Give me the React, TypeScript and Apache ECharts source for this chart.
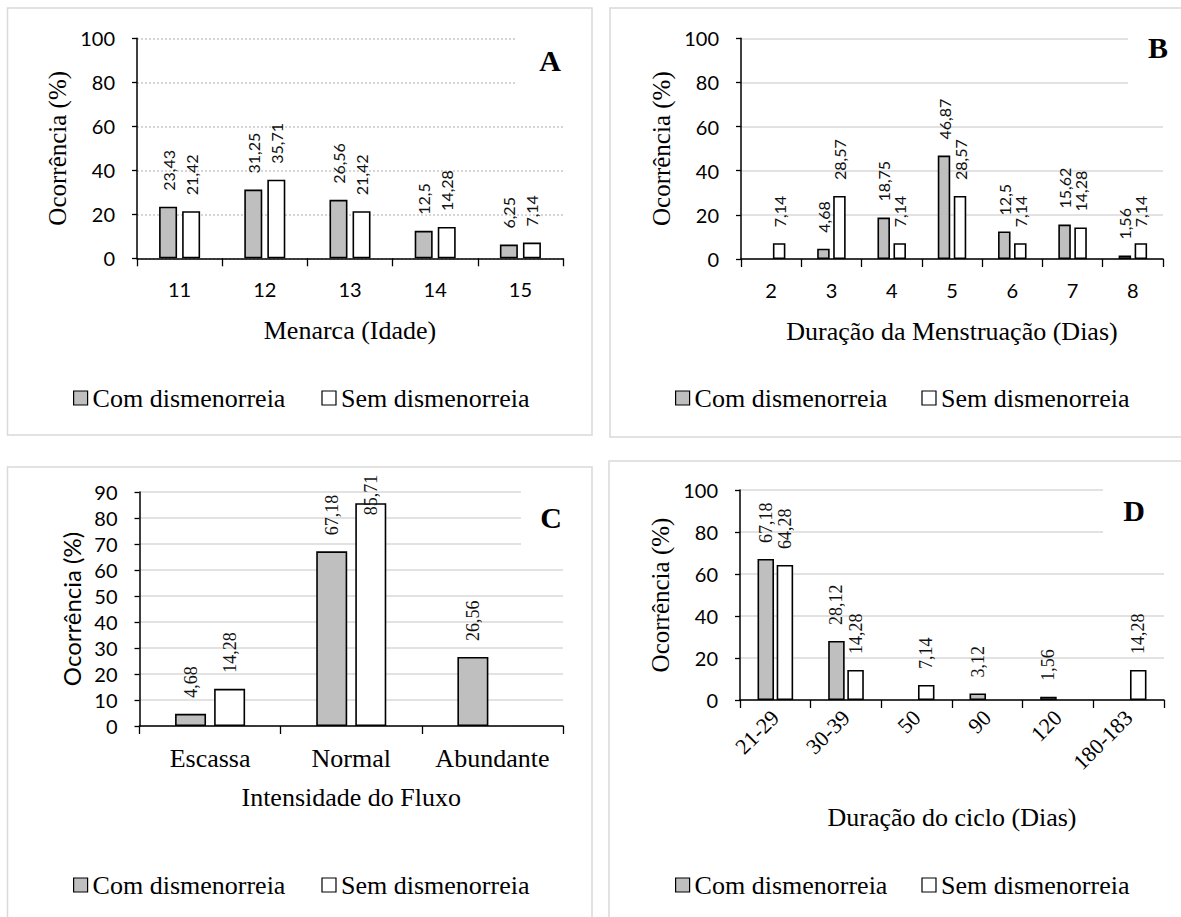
import React, { useEffect, useRef } from "react";
import * as echarts from "echarts";

const NAME_COM = "Com dismenorreia";
const NAME_SEM = "Sem dismenorreia";

const CAT_A = ["11", "12", "13", "14", "15"];
const COM_A = [23.43, 31.25, 26.56, 12.5, 6.25];
const SEM_A = [21.42, 35.71, 21.42, 14.28, 7.14];

const CAT_B = ["2", "3", "4", "5", "6", "7", "8"];
const COM_B = [null, 4.68, 18.75, 46.87, 12.5, 15.62, 1.56];
const SEM_B = [7.14, 28.57, 7.14, 28.57, 7.14, 14.28, 7.14];

const CAT_C = ["Escassa", "Normal", "Abundante"];
const COM_C = [4.68, 67.18, 26.56];
const SEM_C = [14.28, 85.71, null];

const CAT_D = ["21-29", "30-39", "50", "90", "120", "180-183"];
const COM_D = [67.18, 28.12, null, 3.12, 1.56, null];
const SEM_D = [64.28, 14.28, 7.14, null, null, 14.28];

const SERIF = "'Liberation Serif', 'Times New Roman', serif";
const SANS = "Lato, 'Open Sans', sans-serif";
const GRAY = "#bfbfbf";

const fmt = (p: any) =>
  p.value == null || p.value === "-" ? "" : String(p.value).replace(".", ",");

function barSeries(
  name: string,
  data: any[],
  idx: number,
  color: string,
  barWidth: number,
  barGap: string,
  font: string,
  fontSize: number
) {
  return {
    type: "bar",
    name,
    xAxisIndex: idx,
    yAxisIndex: idx,
    data,
    barWidth,
    barGap,
    z: 3,
    itemStyle: { color, borderColor: "#000", borderWidth: 1.6 },
    label: {
      show: true,
      position: "top",
      rotate: 90,
      align: "left",
      verticalAlign: "middle",
      distance: 16,
      formatter: fmt,
      fontFamily: font,
      fontSize,
      color: "#111",
    },
  };
}

function yAxis(idx: number, max: number, interval: number, nameFont: string, nameSize: number, nameGap: number, dotted: boolean) {
  return {
    type: "value",
    gridIndex: idx,
    min: 0,
    max,
    interval,
    name: "Ocorrência (%)",
    nameLocation: "middle",
    nameGap,
    nameRotate: 90,
    nameTextStyle: { fontFamily: nameFont, fontSize: nameSize, color: "#000" },
    axisLine: { show: true, lineStyle: { color: "#000", width: 1.5 } },
    axisTick: { show: true, length: 5, lineStyle: { color: "#000", width: 1.3 } },
    axisLabel: { fontFamily: SANS, fontSize: 20, color: "#000", margin: 22 },
    splitLine: {
      show: true,
      lineStyle: dotted
        ? { color: "#c8c8c8", width: 1.5, type: [2, 2] }
        : { color: "#d9d9d9", width: 1.5, type: "solid" },
    },
  };
}

function xAxis(idx: number, data: string[], name: string, nameGap: number, label: any) {
  return {
    type: "category",
    gridIndex: idx,
    data,
    name,
    nameLocation: "middle",
    nameGap,
    nameTextStyle: { fontFamily: SERIF, fontSize: 26, color: "#000" },
    axisLine: { show: true, lineStyle: { color: "#000", width: 1.5 } },
    axisTick: { show: true, length: 8, lineStyle: { color: "#000", width: 1.3 } },
    axisLabel: { color: "#000", interval: 0, ...label },
    splitLine: { show: false },
  };
}

function legend(left: number, top: number, gap: number) {
  return {
    left,
    top,
    padding: 0,
    orient: "horizontal",
    itemWidth: 14,
    itemHeight: 14,
    itemGap: gap,
    icon: "rect",
    textStyle: { fontFamily: SERIF, fontSize: 26, color: "#000" },
    data: [
      { name: NAME_COM, itemStyle: { color: GRAY, borderColor: "#000", borderWidth: 1.2 } },
      { name: NAME_SEM, itemStyle: { color: "#fff", borderColor: "#000", borderWidth: 1.2 } },
    ],
  };
}

const border = (x: number, y: number, w: number, h: number) => ({
  type: "rect",
  shape: { x, y, width: w, height: h },
  style: { fill: "none", stroke: "#d9d9d9", lineWidth: 1.5 },
  z: 0,
  silent: true,
});

const mask = (x: number, y: number, w: number, h: number) => ({
  type: "rect",
  shape: { x, y, width: w, height: h },
  style: { fill: "#fff" },
  z: 1,
  silent: true,
});

const letter = (t: string, x: number, y: number) => ({
  type: "text",
  x,
  y,
  z: 10,
  style: {
    text: t,
    fontFamily: SERIF,
    fontWeight: "bold",
    fontSize: 30,
    fill: "#000",
    align: "center",
    verticalAlign: "middle",
  },
});

export default function App() {
  const ref = useRef<HTMLDivElement>(null);
  useEffect(() => {
    if (!ref.current) return;
    const chart = echarts.init(ref.current, null, { renderer: "svg" });
    const semC = SEM_C.map((v, i) => (i === 1 ? { value: v, label: { distance: -12 } } : v));
    chart.setOption({
      animation: false,
      backgroundColor: "#fff",
      grid: [
        { left: 137, top: 38.3, width: 426, height: 220, containLabel: false, outerBoundsMode: "none" },
        { left: 741, top: 38.3, width: 422, height: 220.7, containLabel: false, outerBoundsMode: "none" },
        { left: 139.5, top: 492, width: 423.5, height: 234, containLabel: false, outerBoundsMode: "none" },
        { left: 740, top: 490, width: 424, height: 210, containLabel: false, outerBoundsMode: "none" },
      ],
      xAxis: [
        xAxis(0, CAT_A, "Menarca (Idade)", 59, { fontFamily: SANS, fontSize: 20, margin: 21 }),
        xAxis(1, CAT_B, "Duração da Menstruação (Dias)", 59, { fontFamily: SANS, fontSize: 20, margin: 21 }),
        xAxis(2, CAT_C, "Intensidade do Fluxo", 58, { fontFamily: SERIF, fontSize: 26, margin: 19 }),
        xAxis(3, CAT_D, "Duração do ciclo (Dias)", 104, { fontFamily: SERIF, fontSize: 22, margin: 14, rotate: 45 }),
      ],
      yAxis: [
        yAxis(0, 100, 20, SERIF, 25, 67, true),
        yAxis(1, 100, 20, SERIF, 25, 67, false),
        yAxis(2, 90, 10, SANS, 24, 56, false),
        yAxis(3, 100, 20, SERIF, 25, 67, false),
      ],
      legend: [legend(73, 385, 36), legend(675, 385, 34), legend(73, 872, 36), legend(675, 872, 34)],
      series: [
        barSeries(NAME_COM, COM_A, 0, GRAY, 18, "28%", SANS, 16),
        barSeries(NAME_SEM, SEM_A, 0, "#fff", 18, "28%", SANS, 16),
        barSeries(NAME_COM, COM_B, 1, GRAY, 12.5, "28%", SANS, 16),
        barSeries(NAME_SEM, SEM_B, 1, "#fff", 12.5, "28%", SANS, 16),
        barSeries(NAME_COM, COM_C, 2, GRAY, 31, "26%", SERIF, 18),
        barSeries(NAME_SEM, semC, 2, "#fff", 31, "26%", SERIF, 18),
        barSeries(NAME_COM, COM_D, 3, GRAY, 16.5, "16%", SERIF, 18),
        barSeries(NAME_SEM, SEM_D, 3, "#fff", 16.5, "16%", SERIF, 18),
      ],
      graphic: [
        border(7.5, 8, 584.5, 427),
        border(610, 8, 600, 429),
        border(7.5, 467, 584.5, 480),
        border(609, 461, 600, 480),
        mask(517, 28, 46, 64),
        mask(1128, 28, 36, 66),
        mask(521, 484, 42, 68),
        mask(1103, 482, 62, 62),
        letter("A", 550, 60),
        letter("B", 1158, 47),
        letter("C", 551, 517),
        letter("D", 1134, 510),
      ],
    });
    return () => chart.dispose();
  }, []);
  return (
    <div
      ref={ref}
      style={{ position: "absolute", left: 0, top: 0, width: 1181, height: 917, background: "#fff" }}
    />
  );
}
